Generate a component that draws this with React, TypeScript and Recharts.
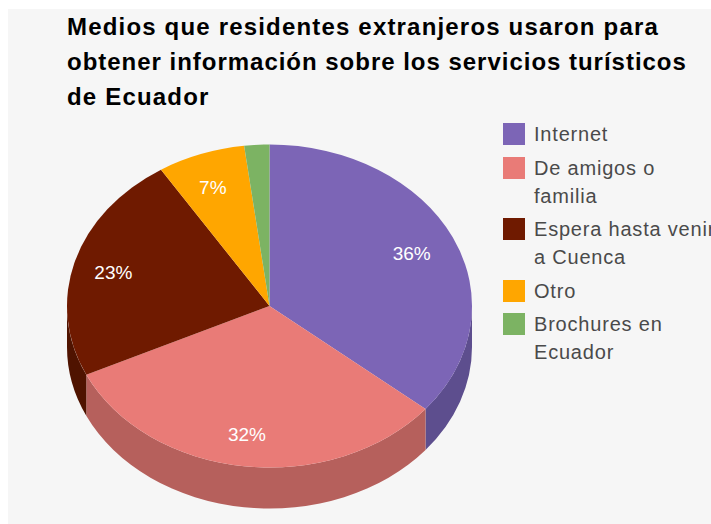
import { PieChart, Pie, Legend } from 'recharts'

const categories = ['Internet', 'De amigos o familia', 'Espera hasta venir a Cuenca', 'Otro', 'Brochures en Ecuador']
const legendLines = [['Internet'], ['De amigos o', 'familia'], ['Espera hasta venir', 'a Cuenca'], ['Otro'], ['Brochures en', 'Ecuador']]
const values = [36, 32, 23, 7, 2]
const colors = ['#7c65b6', '#e97b77', '#6f1a00', '#ffa600', '#7cb363']
const wallColors = ['#5d4e8e', '#b6605c', '#4f1300', '#b87800', '#5a8348']
const titleLines = [
  'Medios que residentes extranjeros usaron para',
  'obtener información sobre los servicios turísticos',
  'de Ecuador',
]
const titleSpacing = [1.18, 0.98, 1.18]

const FONT = '"Liberation Sans", Arial, sans-serif'
const SQUASH = 0.7975
const DEPTH = 41
const RAD = Math.PI / 180

const topData = categories.map((name, i) => ({ name, value: values[i], fill: colors[i] }))
const wallData = categories.map((name, i) => ({ name, value: values[i], fill: wallColors[i] }))

function pointOn(cx: number, cy: number, r: number, deg: number) {
  return [cx + r * Math.cos(deg * RAD), cy - r * SQUASH * Math.sin(deg * RAD)]
}

function TopSlice({ cx, cy, outerRadius, startAngle, endAngle, fill }: any) {
  const r = outerRadius
  const [x1, y1] = pointOn(cx, cy, r, startAngle)
  const [x2, y2] = pointOn(cx, cy, r, endAngle)
  const large = Math.abs(startAngle - endAngle) > 180 ? 1 : 0
  return <path d={`M${cx},${cy} L${x1},${y1} A${r},${r * SQUASH} 0 ${large} 1 ${x2},${y2} Z`} fill={fill} />
}

// only the part of the rim on the lower half of the ellipse can be seen
function WallSlice({ cx, cy, outerRadius, startAngle, endAngle, fill }: any) {
  const r = outerRadius
  const hi = Math.min(Math.max(startAngle, endAngle), 0)
  const lo = Math.max(Math.min(startAngle, endAngle), -180)
  if (lo >= hi) return null
  const [x1, y1] = pointOn(cx, cy, r, hi)
  const [x2, y2] = pointOn(cx, cy, r, lo)
  const ry = r * SQUASH
  return (
    <path
      d={`M${x1},${y1} A${r},${ry} 0 0 1 ${x2},${y2} L${x2},${y2 + DEPTH} A${r},${ry} 0 0 0 ${x1},${y1 + DEPTH} Z`}
      fill={fill}
    />
  )
}

function renderPercent({ cx, cy, midAngle, outerRadius, percent }: any) {
  if (percent < 0.05) return null
  const [x, y] = pointOn(cx, cy, outerRadius * 0.79, midAngle)
  return (
    <text x={x - 2.5} y={y + 8.5} textAnchor="middle" fill="#ffffff" fontSize={19} fontFamily={FONT}>
      {`${Math.round(percent * 100)}%`}
    </text>
  )
}

function LegendList({ payload }: any) {
  const items = (payload ?? []).filter((item: any) => colors.includes(item.color))
  return (
    <div style={{ fontFamily: FONT, fontSize: 20, lineHeight: '28px', color: '#4a4a4a', letterSpacing: 0.8 }}>
      {items.map((item: any) => (
        <div key={item.value} style={{ position: 'relative', paddingLeft: 31, marginBottom: 5.5, whiteSpace: 'nowrap' }}>
          <span style={{ position: 'absolute', left: 0, top: 3, width: 22, height: 22, background: item.color }} />
          {(legendLines[categories.indexOf(item.value)] ?? [item.value]).map((line: string) => (
            <div key={line}>{line}</div>
          ))}
        </div>
      ))}
    </div>
  )
}

export default function App() {
  return (
    <div style={{ position: 'fixed', left: 8, top: 9, width: 703, height: 515, overflow: 'hidden', background: '#f6f6f6' }}>
      <PieChart width={703} height={515} margin={{ top: 0, right: 0, bottom: 0, left: 0 }}>
        {titleLines.map((line, i) => (
          <text key={line} x={59} y={26 + i * 35} fontFamily={FONT} fontWeight="bold" fontSize={24} letterSpacing={titleSpacing[i]} fill="#000000">
            {line}
          </text>
        ))}
        <Pie
          data={wallData}
          dataKey="value"
          nameKey="name"
          cx={261.5}
          cy={297}
          outerRadius={202.5}
          startAngle={90}
          endAngle={-270}
          legendType="none"
          isAnimationActive={false}
          shape={WallSlice}
        />
        <Pie
          data={topData}
          dataKey="value"
          nameKey="name"
          cx={261.5}
          cy={297}
          outerRadius={202.5}
          startAngle={90}
          endAngle={-270}
          isAnimationActive={false}
          labelLine={false}
          label={renderPercent}
          shape={TopSlice}
        />
        <Legend
          layout="vertical"
          itemSorter={null}
          content={<LegendList />}
          wrapperStyle={{ position: 'absolute', left: 495, top: 111, width: 230, bottom: 'auto' }}
        />
      </PieChart>
    </div>
  )
}
